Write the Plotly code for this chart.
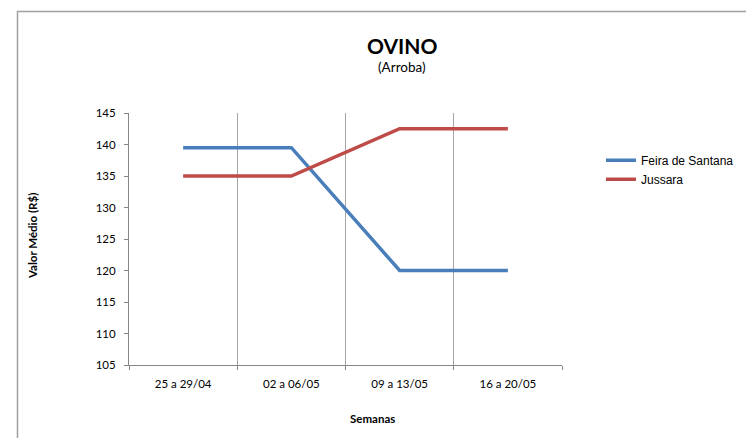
import plotly.graph_objects as go

semanas = ["25 a 29/04", "02 a 06/05", "09 a 13/05", "16 a 20/05"]
feira_de_santana = [139.5, 139.5, 120, 120]
jussara = [135, 135, 142.5, 142.5]
y_ticks = [105, 110, 115, 120, 125, 130, 135, 140, 145]

fonte_eixo = "Lato, Open Sans, sans-serif"

# a página tem 8px de margem no body, então tudo é deslocado 8px
L, T, W, H = 121, 105, 433, 252

fig = go.Figure()

fig.add_trace(go.Scatter(
    x=semanas, y=feira_de_santana,
    mode="lines",
    name="Feira de Santana",
    line=dict(color="#4A7EBB", width=3.5),
))
fig.add_trace(go.Scatter(
    x=semanas, y=jussara,
    mode="lines",
    name="Jussara",
    line=dict(color="#BE4B48", width=3.5),
))

fig.update_layout(
    width=746, height=430,
    margin=dict(l=L, r=746 - L - W, t=T, b=430 - T - H, autoexpand=False),
    paper_bgcolor="white",
    plot_bgcolor="white",
    showlegend=True,
    legend=dict(
        x=1.09, y=0.775, xanchor="left", yanchor="middle",
        font=dict(family="Liberation Sans, Arial", size=12, color="black"),
        bgcolor="rgba(0,0,0,0)",
        itemwidth=30,
        traceorder="grouped",
        tracegroupgap=4,
    ),
    xaxis=dict(
        type="category",
        range=[-0.5, 3.5],
        tickson="boundaries",
        showgrid=True, gridcolor="#A6A6A6", gridwidth=1,
        showline=True, linecolor="#868686", linewidth=1,
        ticks="outside", ticklen=4, tickcolor="#868686",
        ticklabelstandoff=8,
        tickfont=dict(family=fonte_eixo, size=11.5, color="black"),
        zeroline=False,
    ),
    yaxis=dict(
        range=[105, 145],
        tickvals=y_ticks,
        showgrid=False,
        showline=True, linecolor="#868686", linewidth=1,
        ticks="outside", ticklen=4, tickcolor="#868686",
        ticklabelstandoff=6,
        tickfont=dict(family=fonte_eixo, size=11.5, color="black"),
        zeroline=False,
    ),
)


def px_x(x):
    return (x - 8 - L) / W


def px_y(y):
    return 1 - (y - 8 - T) / H


# títulos
fig.add_annotation(
    text="<b>OVINO</b>", xref="paper", yref="paper",
    x=px_x(402), y=px_y(45),
    showarrow=False, font=dict(family=fonte_eixo, size=21, color="black"),
    xanchor="center", yanchor="middle",
)
fig.add_annotation(
    text="(Arroba)", xref="paper", yref="paper",
    x=px_x(402), y=px_y(67),
    showarrow=False, font=dict(family=fonte_eixo, size=13.5, color="black"),
    xanchor="center", yanchor="middle",
)
fig.add_annotation(
    text="<b>Semanas</b>", xref="paper", yref="paper",
    x=px_x(372), y=px_y(418),
    showarrow=False, font=dict(family=fonte_eixo, size=11.5, color="black"),
    xanchor="center", yanchor="middle",
)
fig.add_annotation(
    text="<b>Valor Médio (R$)</b>", xref="paper", yref="paper",
    x=px_x(32), y=px_y(236), textangle=-90,
    showarrow=False, font=dict(family=fonte_eixo, size=11.5, color="black"),
    xanchor="center", yanchor="middle",
)

# borda externa do gráfico
fig.add_shape(
    type="rect", xref="paper", yref="paper",
    x0=px_x(17.5), x1=px_x(800),
    y0=px_y(480), y1=px_y(11.5),
    line=dict(color="#A0A0A0", width=1.5),
    fillcolor="rgba(0,0,0,0)",
    layer="below",
)

fig.write_html("out.html")
